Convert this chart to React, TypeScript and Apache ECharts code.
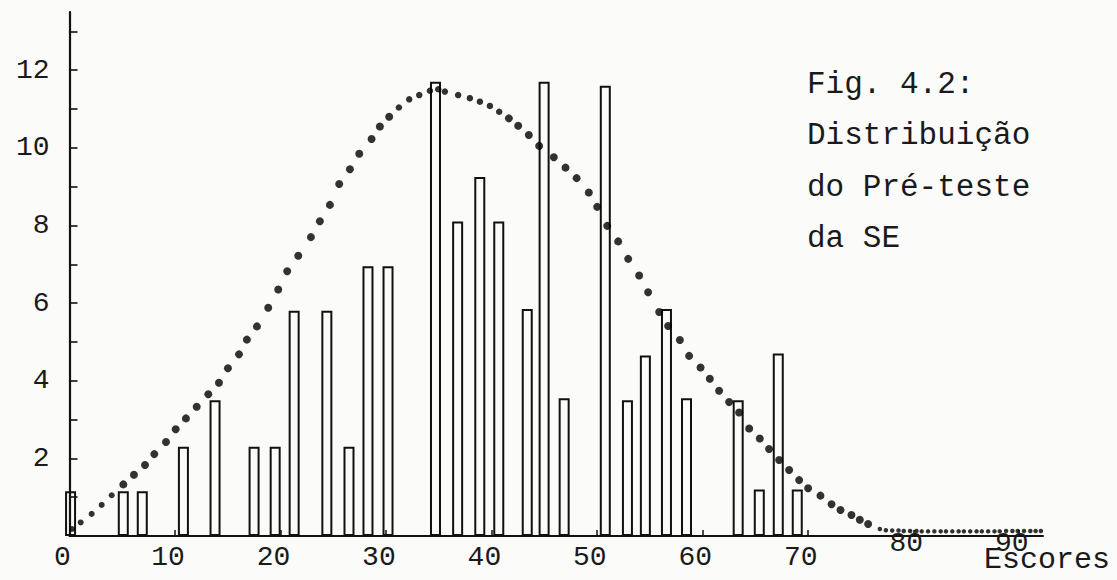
import React, { useEffect, useRef } from "react";
import * as echarts from "echarts";

// Histogram bars: score position and height (percent of students)
const barScores = [0.1, 5.1, 6.9, 10.8, 13.8, 17.5, 19.5, 21.3, 24.4, 26.5, 28.3, 30.2, 34.7, 36.8, 38.9, 40.7, 43.4, 45.0, 46.9, 50.8, 52.9, 54.6, 56.6, 58.5, 63.4, 65.4, 67.2, 69.0];
const barValues = [1.15, 1.15, 1.15, 2.3, 3.5, 2.3, 2.3, 5.8, 5.8, 2.3, 6.95, 6.95, 11.7, 8.1, 9.25, 8.1, 5.85, 11.7, 3.55, 11.6, 3.5, 4.65, 5.85, 3.55, 3.5, 1.2, 4.7, 1.2];

// Dotted normal-like curve, read dot by dot
const curveScores = [0.24, 1.06, 2.1, 3.05, 4.0, 5.1, 6.11, 7.16, 8.04, 9.15, 10.07, 11.04, 12.06, 13.16, 14.17, 15.02, 16.07, 16.82, 17.77, 18.84, 19.79, 20.64, 21.69, 22.89, 23.74, 24.69, 25.57, 26.59, 27.47, 28.64, 29.43, 30.31, 31.23, 32.21, 33.16, 34.17, 34.96, 35.59, 36.85, 37.96, 38.91, 39.86, 40.74, 41.66, 42.54, 43.55, 44.53, 45.92, 47.03, 48.08, 49.24, 50.03, 50.98, 52.02, 52.97, 54.01, 54.86, 55.91, 56.76, 57.87, 58.75, 59.83, 60.71, 61.59, 62.54, 63.49, 64.44, 65.45, 66.33, 67.28, 68.23, 69.18, 70.03, 71.2, 72.25, 73.1, 74.14, 74.93, 75.72, 76.83, 77.4, 78.0, 78.6, 79.1, 79.7, 80.3, 80.8, 81.4, 82.0, 82.6, 83.1, 83.7, 84.3, 84.8, 85.4, 86.0, 86.5, 87.1, 87.7, 88.2, 88.8, 89.4, 89.9, 90.5, 91.1, 91.6, 92.1];
const curveValues = [0.18, 0.35, 0.57, 0.8, 1.05, 1.33, 1.58, 1.83, 2.11, 2.42, 2.75, 3.03, 3.33, 3.65, 3.95, 4.32, 4.68, 5.06, 5.4, 5.88, 6.35, 6.82, 7.22, 7.7, 8.11, 8.53, 9.07, 9.45, 9.85, 10.23, 10.55, 10.8, 11.04, 11.25, 11.36, 11.47, 11.51, 11.45, 11.36, 11.28, 11.19, 11.08, 10.93, 10.76, 10.57, 10.33, 10.05, 9.76, 9.49, 9.22, 8.85, 8.48, 7.99, 7.59, 7.14, 6.71, 6.28, 5.77, 5.41, 5.05, 4.64, 4.34, 4.05, 3.74, 3.45, 3.18, 2.77, 2.51, 2.24, 1.96, 1.7, 1.44, 1.23, 1.04, 0.82, 0.67, 0.54, 0.42, 0.31, 0.18, 0.15, 0.14, 0.14, 0.13, 0.13, 0.13, 0.12, 0.12, 0.12, 0.12, 0.12, 0.12, 0.12, 0.12, 0.12, 0.12, 0.12, 0.12, 0.12, 0.12, 0.13, 0.13, 0.13, 0.13, 0.13, 0.13, 0.13];

const xTickLabelsLow = [0, 10, 20, 30, 40, 50, 60, 70];
const xTickLabelsHigh = [80, 90];
const xTickMarks = [10, 20, 30, 40, 50, 60, 70, 80, 90];
const yTickLabels = [2, 4, 6, 8, 10, 12];
const yTickMarks = [1, 2, 3, 4, 5, 6, 7, 8, 9, 10, 11, 12, 13];
const titleLines = ["Fig. 4.2:", "Distribuição", "do Pré-teste", "da SE"];
const xAxisTitle = "Escores";

export default function App() {
  const ref = useRef<HTMLDivElement>(null);
  useEffect(() => {
    const chart = echarts.init(ref.current!, null, { renderer: "svg" });
    const font = "'Liberation Mono', 'Courier New', monospace";
    const ink = "#111111";
    const titleCenters = [84, 135, 187, 238];
    const labelBase = { fontFamily: font, fontSize: 28, color: "#1a1a1a", padding: [0, 14, 0, 0] };
    chart.setOption({
      animation: false,
      backgroundColor: "#fbfbf9",
      grid: { left: 69.5, right: 74, top: 12, bottom: 44 },
      xAxis: [
        {
          type: "value",
          min: 0,
          max: 92.3,
          axisLine: { show: true, lineStyle: { color: ink, width: 2 } },
          axisTick: { show: true, inside: true, length: 6, customValues: xTickMarks, lineStyle: { color: ink, width: 1.5 } },
          axisLabel: { ...labelBase, customValues: xTickLabelsLow, margin: 7 },
          splitLine: { show: false },
        },
        {
          type: "value",
          min: 0,
          max: 92.3,
          position: "bottom",
          offset: -14,
          axisLine: { show: false },
          axisTick: { show: false },
          axisLabel: { ...labelBase, customValues: xTickLabelsHigh, margin: 7 },
          splitLine: { show: false },
        },
      ],
      yAxis: {
        type: "value",
        min: 0,
        max: 13.5,
        axisLine: { show: true, lineStyle: { color: ink, width: 2.2 } },
        axisTick: { show: true, inside: true, length: 8, customValues: yTickMarks, lineStyle: { color: ink, width: 1.6 } },
        axisLabel: { customValues: yTickLabels, fontFamily: font, fontSize: 28, color: "#1a1a1a", margin: 20, padding: [12, 0, 0, 0] },
        splitLine: { show: false },
      },
      series: [
        {
          type: "bar",
          xAxisIndex: 0,
          data: barScores.map((s, i) => [s, barValues[i]]),
          barWidth: 11,
          clip: false,
          itemStyle: { color: "rgba(255,255,255,0)", borderColor: ink, borderWidth: 2 },
          z: 2,
        },
        {
          type: "scatter",
          xAxisIndex: 0,
          data: curveScores.map((s, i) => [s, curveValues[i]]),
          symbol: "circle",
          symbolSize: (v: number[]) => (v[0] > 76.5 ? 4.5 : v[0] < 4.5 ? 6 : v[1] > 10.9 ? 6.5 : 8),
          itemStyle: { color: "#000000" },
          clip: false,
          z: 3,
        },
      ],
      graphic: [
        ...titleLines.map((t, i) => ({
          type: "text",
          x: 807,
          y: titleCenters[i],
          style: { text: t, fontFamily: font, fontSize: 31, fill: "#1a1a1a", verticalAlign: "middle" },
        })),
        {
          type: "text",
          x: 984,
          y: 560,
          style: { text: xAxisTitle, fontFamily: font, fontSize: 30, lineHeight: 24, fill: "#1a1a1a", verticalAlign: "middle" },
        },
      ],
    });
    return () => chart.dispose();
  }, []);
  return <div ref={ref} style={{ position: "fixed", left: 0, top: 0, width: 1117, height: 580 }} />;
}
